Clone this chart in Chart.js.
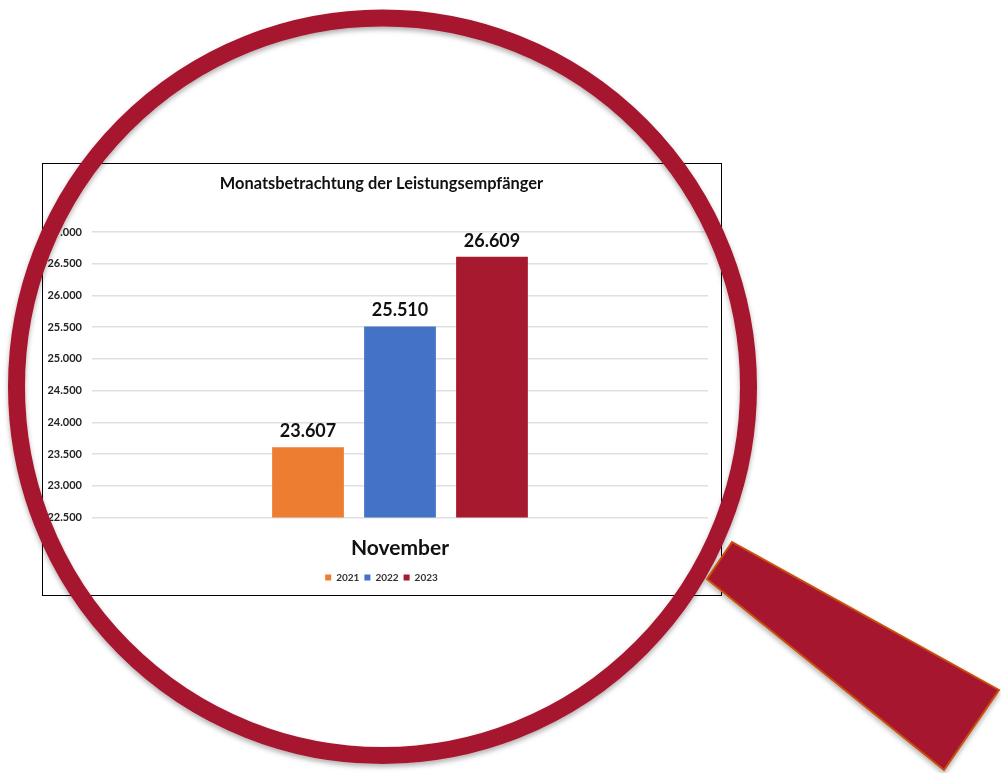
<!DOCTYPE html>
<html lang="de">
<head>
<meta charset="utf-8">
<title>Monatsbetrachtung der Leistungsempfänger</title>
<script src="https://cdn.jsdelivr.net/npm/chart.js@4"></script>
<style>
  html, body { margin: 0; padding: 0; background: #fff; overflow: hidden; }
  #stage { position: relative; width: 1001px; height: 773px; }
  #frame { position: absolute; left: 42px; top: 163px; width: 680px; height: 433px; box-sizing: border-box; border: 1px solid #000; }
  #frame canvas { position: absolute; left: -1px; top: -1px; }
  #glass { position: absolute; left: 0; top: 0; }
</style>
</head>
<body>
<div id="stage">
  <div id="frame"><canvas id="chart" width="679" height="432"></canvas></div>
  <svg id="glass" width="1001" height="773" viewBox="0 0 1001 773">
    <defs>
      <filter id="soft" x="-10%" y="-10%" width="120%" height="120%">
        <feDropShadow dx="0" dy="3" stdDeviation="2.5" flood-color="#000" flood-opacity="0.3"/>
      </filter>
    </defs>
    <ellipse cx="382.5" cy="386.75" rx="366" ry="368.75" fill="none" stroke="#A6192E" stroke-width="17" filter="url(#soft)"/>
    <polygon points="732,542 999,690 944,770 707,579" fill="#A6192E" stroke="#C8500A" stroke-width="2" filter="url(#soft)"/>
  </svg>
</div>
<script>
const categories = ['November'];
const years = ['2021', '2022', '2023'];
const values2021 = [23607];
const values2022 = [25510];
const values2023 = [26609];
const seriesColors = ['#ED7D31', '#4472C4', '#A6192E'];

const fontFamily = 'Lato, "Open Sans", sans-serif';
const fmt = v => v.toLocaleString('de-DE');

// value labels above the bars
const barLabels = {
  id: 'barLabels',
  afterDatasetsDraw(chart) {
    const { ctx } = chart;
    ctx.save();
    ctx.font = `bold 18px ${fontFamily}`;
    ctx.fillStyle = '#111';
    ctx.textAlign = 'center';
    ctx.textBaseline = 'middle';
    chart.data.datasets.forEach((ds, i) => {
      chart.getDatasetMeta(i).data.forEach((bar, j) => {
        ctx.fillText(fmt(ds.data[j]), bar.x, bar.y - 16);
      });
    });
    ctx.restore();
  }
};

new Chart(document.getElementById('chart'), {
  type: 'bar',
  data: {
    labels: categories,
    datasets: [
      { label: years[0], data: values2021, backgroundColor: seriesColors[0] },
      { label: years[1], data: values2022, backgroundColor: seriesColors[1] },
      { label: years[2], data: values2023, backgroundColor: seriesColors[2] },
    ],
  },
  options: {
    responsive: false,
    animation: false,
    categoryPercentage: 0.448,
    barPercentage: 0.78,
    layout: { padding: { left: 0, right: 0, top: 0, bottom: 2.5 } },
    plugins: {
      title: {
        display: true,
        text: 'Monatsbetrachtung der Leistungsempfänger',
        color: '#111',
        font: { family: fontFamily, size: 16.4, weight: 'bold' },
        padding: { top: 11, bottom: 38.3 },
      },
      legend: {
        position: 'bottom',
        labels: {
          boxWidth: 6, boxHeight: 6, padding: 5, color: '#333',
          font: { family: fontFamily, size: 10, weight: 'bold' },
        },
      },
      tooltip: { enabled: false },
    },
    scales: {
      x: {
        afterFit(scale) { scale.height = 50; },
        grid: { display: false },
        border: { display: false },
        ticks: { color: '#111', padding: 10, font: { family: fontFamily, size: 21, weight: 'bold' } },
      },
      y: {
        min: 22500,
        max: 27000,
        afterFit(scale) { scale.width = 50; },
        grid: { color: '#e0e0e0', lineWidth: 1.5, drawTicks: false },
        border: { display: false },
        ticks: {
          stepSize: 500, padding: 10, color: '#222',
          font: { family: fontFamily, size: 11, weight: 'bold' },
          callback: v => fmt(v),
        },
      },
      // empty axis, only keeps the right margin so the title stays centred on the frame
      spacer: {
        position: 'right',
        afterFit(scale) { scale.width = 13; },
        grid: { display: false },
        border: { display: false },
        ticks: { display: false },
      },
    },
  },
  plugins: [barLabels],
});
</script>
</body>
</html>
